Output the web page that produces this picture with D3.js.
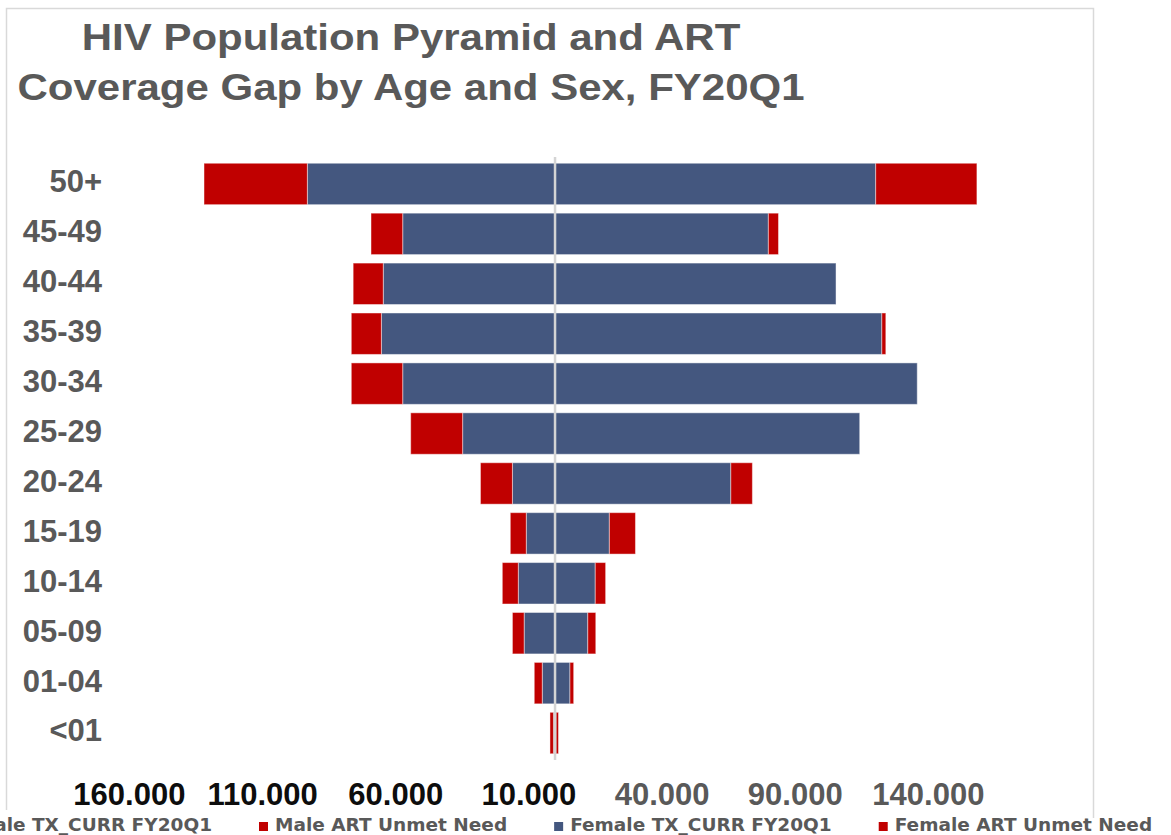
<!DOCTYPE html>
<html>
<head>
<meta charset="utf-8">
<script src="https://cdn.jsdelivr.net/npm/d3@7"></script>
<style>
  html, body { margin: 0; padding: 0; background: #ffffff; }
  svg { display: block; }
</style>
</head>
<body>
<svg id="chart" width="1171" height="835"></svg>
<script>
// Age bands, top to bottom
const ageGroups = ["50+", "45-49", "40-44", "35-39", "30-34", "25-29", "20-24", "15-19", "10-14", "05-09", "01-04", "<01"];

// Patients currently on treatment (TX_CURR) and unmet ART need, by sex
const maleTxCurr   = [93000, 57200, 64500, 65200, 57200, 34700, 16000, 10800, 13800, 11600, 4800, 600];
const maleUnmet    = [38800, 11900, 11300, 11300, 19300, 19500, 12000, 6000, 6000, 4400, 3000, 1300];
const femaleTxCurr = [120400, 80100, 105500, 122700, 136000, 114400, 66000, 20400, 15100, 12300, 5600, 400];
const femaleUnmet  = [38000, 3800, 0, 1500, 0, 0, 8100, 9800, 3900, 3000, 1400, 900];

// Axis ticks (male values run left of zero)
const tickValues = [-160000, -110000, -60000, -10000, 40000, 90000, 140000];

const seriesNames = ["Male TX_CURR FY20Q1", "Male ART Unmet Need", "Female TX_CURR FY20Q1", "Female ART Unmet Need"];

const titleLines = ["HIV Population Pyramid and ART", "Coverage Gap by Age and Sex, FY20Q1"];

const BLUE = "#44577f";
const RED = "#c00000";
const GREY_TEXT = "#595959";
const seriesColors = [BLUE, RED, BLUE, RED];

const svg = d3.select("#chart");

// chart frame
svg.append("path")
  .attr("d", "M6.5,810 V8.5 H1093.5 V818")
  .attr("fill", "none")
  .attr("stroke", "#d9d9d9")
  .attr("stroke-width", 1.5);

// title
const title = svg.append("g").attr("fill", GREY_TEXT)
  .style("font-family", "'Liberation Sans', Arial, sans-serif")
  .style("font-weight", "bold")
  .style("font-size", "42px");
titleLines.forEach((t, i) => {
  title.append("text")
    .attr("transform", `translate(411,${49.5 + i * 50}) scale(1,0.885)`)
    .attr("text-anchor", "middle")
    .text(t);
});

// scales
const x = d3.scaleLinear().domain([-160000, 140000]).range([128.9, 927.9]);
const y = d3.scaleBand().domain(ageGroups).range([159, 758]).paddingInner(0.17).paddingOuter(0.085);

// stacked segments: each side grows outward from zero
const rows = ageGroups.map((g, i) => ({ g, i }));
const segments = [];
rows.forEach(r => {
  const mT = maleTxCurr[r.i], mU = maleUnmet[r.i], fT = femaleTxCurr[r.i], fU = femaleUnmet[r.i];
  segments.push({ g: r.g, x0: -mT, x1: 0, color: BLUE });
  segments.push({ g: r.g, x0: -(mT + mU), x1: -mT, color: RED });
  segments.push({ g: r.g, x0: 0, x1: fT, color: BLUE });
  segments.push({ g: r.g, x0: fT, x1: fT + fU, color: RED });
});

svg.append("g")
  .selectAll("rect")
  .data(segments.filter(d => d.x1 > d.x0))
  .join("rect")
  .attr("x", d => x(d.x0))
  .attr("width", d => x(d.x1) - x(d.x0))
  .attr("y", d => y(d.g))
  .attr("height", y.bandwidth())
  .attr("fill", d => d.color)
  .attr("stroke", "rgba(255,255,255,0.45)")
  .attr("stroke-width", 1);

// centre line at zero
svg.append("line")
  .attr("x1", x(0)).attr("x2", x(0))
  .attr("y1", 157).attr("y2", 760)
  .attr("stroke", "#d4d4d4")
  .attr("stroke-width", 2.5);

// age band labels
const yAxis = svg.append("g")
  .attr("transform", "translate(102,0)")
  .call(d3.axisLeft(y).tickSize(0).tickPadding(0));
yAxis.select(".domain").remove();
yAxis.selectAll("text")
  .attr("dy", "0.27em")
  .attr("fill", GREY_TEXT)
  .style("font-family", "'Liberation Sans', Arial, sans-serif")
  .style("font-weight", "bold")
  .style("font-size", "31px");

// value axis labels (absolute values, dot as thousands separator)
const fmt = v => d3.format(",")(Math.abs(v)).replace(/,/g, ".");
const xAxis = svg.append("g")
  .attr("transform", "translate(0,805)")
  .call(d3.axisBottom(x).tickValues(tickValues).tickFormat(fmt).tickSize(0).tickPadding(0));
xAxis.select(".domain").remove();
xAxis.selectAll("text")
  .attr("y", 0)
  .attr("dy", 0)
  .attr("fill", d => d < 0 ? "#0d0d0d" : GREY_TEXT)
  .style("font-family", "'Liberation Sans', Arial, sans-serif")
  .style("font-weight", "bold")
  .style("font-size", "31px");

// legend
const legend = svg.append("g")
  .style("font-family", "'DejaVu Sans', Verdana, sans-serif")
  .style("font-weight", "bold")
  .style("font-size", "18.5px");
const items = seriesNames.map((name, i) => {
  const g = legend.append("g");
  g.append("rect").attr("width", 9).attr("height", 9).attr("y", -9).attr("fill", seriesColors[i]);
  const t = g.append("text").attr("x", 16).attr("fill", GREY_TEXT).text(name);
  return { g, w: 16 + t.node().getComputedTextLength() };
});
const gap = 47;
// second entry starts at a fixed position; the rest flow around it
const starts = [];
starts[1] = 259;
starts[0] = starts[1] - gap - items[0].w;
starts[2] = starts[1] + items[1].w + gap;
starts[3] = starts[2] + items[2].w + gap;
items.forEach((it, i) => it.g.attr("transform", `translate(${starts[i]},831)`));
</script>
</body>
</html>
